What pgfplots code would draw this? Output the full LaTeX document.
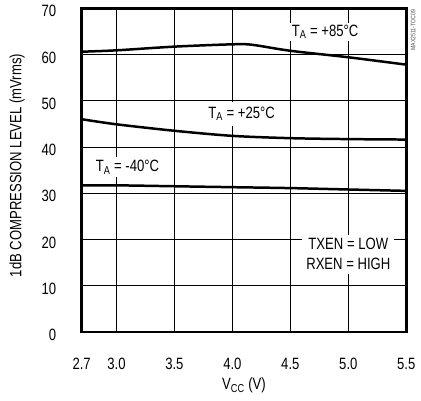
\documentclass[border=0pt]{standalone}
\usepackage{fontspec}
\setmainfont{Liberation Sans}[FakeStretch=0.8]
\usepackage{pgfplots}
\pgfplotsset{compat=1.18}
\begin{document}
\fontsize{16.5}{20}\selectfont
\begin{tikzpicture}
\begin{axis}[
  scale only axis, width=326bp, height=325bp,
  xmin=2.7, xmax=5.5, ymin=0, ymax=70,
  axis line style={line width=2.5bp},
  grid=major, grid style={black, line width=0.7bp},
  major tick length=0,
  xtick={2.7,3.0,3.5,4.0,4.5,5.0,5.5},
  ytick={0,10,20,30,40,50,60,70},
  /pgf/number format/assume math mode=true,
  xticklabel style={/pgf/number format/fixed, /pgf/number format/fixed zerofill, /pgf/number format/precision=1, yshift=-21bp},
  tick label style={font=\fontsize{16.5}{20}\selectfont},
  yticklabel style={xshift=-20bp, yshift=-3bp},
  xlabel={V\textsubscript{CC} (V)},
  ylabel={1dB COMPRESSION LEVEL (mVrms)},
  xlabel style={at={(axis description cs:0.5,-0.166)}, anchor=center, font=\fontsize{16.5}{20}\selectfont},
  ylabel style={at={(axis description cs:-0.199,0.514)}, anchor=center, font=\fontsize{16.5}{20}\selectfont},
  clip=false,
]
\addplot[black, line width=2.5bp, no marks, smooth, tension=0.5] coordinates {(2.7,60.6) (3.0,60.9) (3.5,61.7) (4.0,62.2) (4.17,62.1) (4.5,60.8) (5.0,59.4) (5.5,57.8)};
\addplot[black, line width=2.5bp, no marks, smooth, tension=0.5] coordinates {(2.7,46.0) (3.0,44.9) (3.5,43.5) (4.0,42.4) (4.5,41.9) (5.0,41.7) (5.5,41.6)};
\addplot[black, line width=2.5bp, no marks, smooth, tension=0.5] coordinates {(2.7,31.7) (3.0,31.7) (3.5,31.5) (4.0,31.3) (4.5,31.1) (5.0,30.8) (5.5,30.5)};
\node[fill=white, inner sep=2bp] at (axis cs:4.80,64.9) {T\textsubscript{A} = +85°C};
\node[fill=white, inner xsep=4bp, inner ysep=5bp] at (axis cs:4.08,47.2) {T\textsubscript{A} = +25°C};
\node[fill=white, inner sep=3bp] at (axis cs:3.095,35.6) {T\textsubscript{A} = -40°C};
\node[fill=white, inner sep=4bp, align=center] at (axis cs:5.0,16.8) {TXEN = LOW\\RXEN = HIGH};
\end{axis}
\node[rotate=90, font=\fontsize{6.5}{7}\selectfont, text=black!70] at (333bp,303bp) {MAX2511-TOC09};
\path[use as bounding box] (-82bp,-69bp) rectangle (339bp,331bp);
\end{tikzpicture}
\end{document}
